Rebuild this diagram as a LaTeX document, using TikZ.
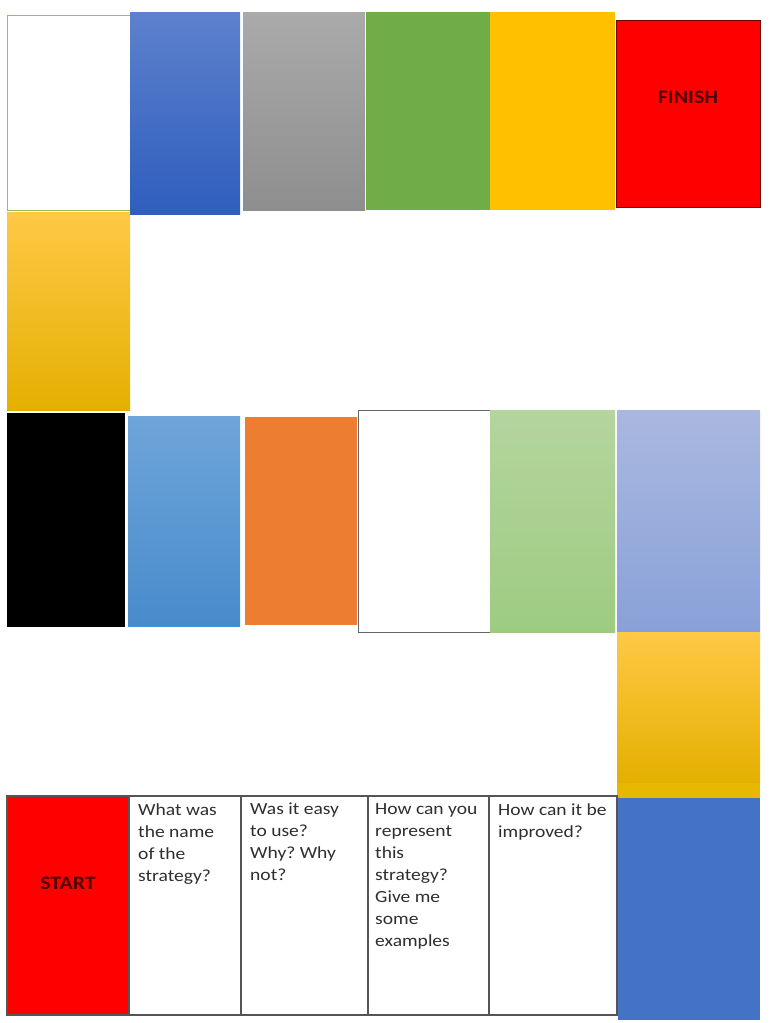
\documentclass[tikz,border=0pt]{standalone}
\usepackage{fontspec}
\setmainfont{Carlito}
\newfontfamily\gamefont[FakeStretch=1.15]{Carlito}
\usetikzlibrary{positioning}
\frenchspacing
\definecolor{tileyellow}{HTML}{FFC000}
\definecolor{tilegreen}{HTML}{70AD47}
\definecolor{tileorange}{HTML}{ED7D31}
\definecolor{tileblue}{HTML}{4472C4}
\definecolor{labelred}{HTML}{500000}
\definecolor{qgray}{HTML}{2E2E2E}

\begin{document}
\begin{tikzpicture}[
  x=1pt, y=-1pt,
  tile/.style={inner sep=0pt, outer sep=0pt, anchor=north west},
  sz/.style 2 args={minimum width=#1pt, minimum height=#2pt},
  qbox/.style={tile, draw={rgb,255:red,85;green,85;blue,85}, line width=1.1pt},
  qtext/.style={inner sep=0pt, align=left, text=qgray,
    font=\gamefont\fontsize{17}{22}\selectfont},
  tag/.style={inner sep=0pt, text=labelred,
    font=\gamefont\bfseries\fontsize{19}{22}\selectfont},
  yellowfade/.style={top color={rgb,255:red,255;green,200;blue,70},
    middle color=tileyellow, bottom color={rgb,255:red,228;green,176;blue,0}}
]
\useasboundingbox (0,0) rectangle (771,1023);

% top row, leading to the finish
\node[tile, sz={123}{195}, fill=white, draw={rgb,255:red,155;green,187;blue,89}, line width=0.6pt] (t1) at (7,15) {};
\node[tile, sz={110}{202}, top color={rgb,255:red,93;green,129;blue,205}, bottom color={rgb,255:red,47;green,94;blue,190}] (t2) at (130,12) {};
\node[tile, sz={122}{198}, top color={rgb,255:red,170;green,170;blue,170}, bottom color={rgb,255:red,142;green,142;blue,142}] (t3) at (243,12) {};
\node[tile, sz={124}{198}, fill=tilegreen] (t4) at (366,12) {};
\node[tile, sz={125}{198}, fill=tileyellow] (t5) at (490,12) {};
\node[tile, sz={144}{187}, fill=red, draw={rgb,255:red,110;green,0;blue,0}, line width=0.8pt] (finish) at (616,20) {};
\node[tag] (finishlabel) at ([yshift=16pt]finish.center) {FINISH};

% left link
\node[tile, sz={123}{198}, yellowfade] (l1) at (7,212) {};

% middle row
\node[tile, sz={118}{214}, fill=black] (m1) at (7,413) {};
\node[tile, sz={112}{210}, top color={rgb,255:red,110;green,165;blue,218}, bottom color={rgb,255:red,72;green,139;blue,203}] (m2) at (128,416) {};
\node[tile, sz={112}{208}, fill=tileorange] (m3) at (245,417) {};
\node[tile, sz={132}{222}, fill=white, draw={rgb,255:red,100;green,100;blue,100}, line width=1pt] (m4) at (358,410) {};
\node[tile, sz={125}{222}, top color={rgb,255:red,180;green,213;blue,158}, bottom color={rgb,255:red,158;green,203;blue,130}] (m5) at (490,410) {};
\node[tile, sz={143}{222}, top color={rgb,255:red,170;green,184;blue,224}, bottom color={rgb,255:red,137;green,161;blue,216}] (m6) at (617,410) {};

% right link
\node[tile, sz={143}{150}, yellowfade] (r1) at (617,632) {};
\node[tile, sz={143}{15}, fill={rgb,255:red,230;green,184;blue,0}] (r2) at (617,783) {};

% bottom row, from the start
\node[qbox, sz={122}{219}, fill=red] (start) at (7,796) {};
\node[tag] (startlabel) at ([yshift=22pt]start.center) {START};
\node[qbox, sz={112}{219}, right=0pt of start] (q1) {};
\node[qbox, sz={127}{219}, right=0pt of q1] (q2) {};
\node[qbox, sz={121}{219}, right=0pt of q2] (q3) {};
\node[qbox, sz={128}{219}, right=0pt of q3] (q4) {};
\node[tile, sz={142}{222}, fill=tileblue] (b1) at (618,798) {};

\node[qtext, below right=7pt and 9pt of q1.north west] (q1text) {What was\\the name\\of the\\strategy?};
\node[qtext, below right=7pt and 9pt of q2.north west] (q2text) {Was it easy\\to use?\\Why? Why\\not?};
\node[qtext, below right=7pt and 7pt of q3.north west] (q3text) {How can you\\represent\\this\\strategy?\\Give me\\some\\examples};
\node[qtext, below right=7pt and 9pt of q4.north west] (q4text) {How can it be\\improved?};
\end{tikzpicture}
\end{document}
